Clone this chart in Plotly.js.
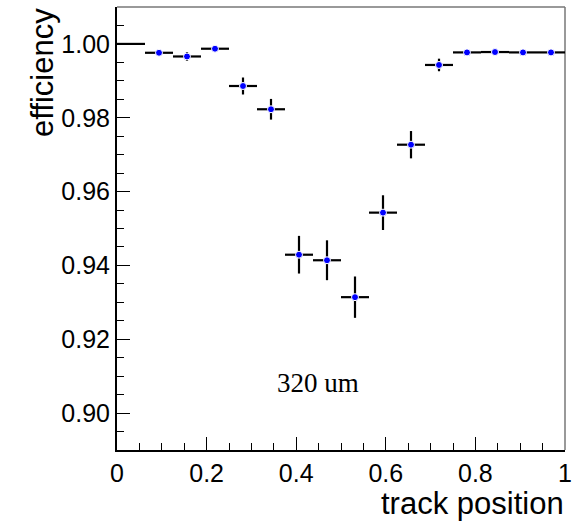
<!DOCTYPE html>
<html>
<head>
<meta charset="utf-8">
<script src="https://cdn.plot.ly/plotly-3.0.1.min.js"></script>
<style>html,body{margin:0;padding:0;background:#fff;}#chart{width:578px;height:524px;}</style>
</head>
<body>
<div id="chart"></div>
<script>
// Bin centres (track position) and measured efficiency
const trackPos = [0.03125, 0.09375, 0.15625, 0.21875, 0.28125, 0.34375, 0.40625, 0.46875,
                  0.53125, 0.59375, 0.65625, 0.71875, 0.78125, 0.84375, 0.90625, 0.96875];
const efficiency = [1.0000, 0.9976, 0.9966, 0.9987, 0.9886, 0.9823, 0.9429, 0.9414,
                    0.9314, 0.9543, 0.9727, 0.9943, 0.9977, 0.9978, 0.9977, 0.9977];
const effErr = [0.0000, 0.0005, 0.0012, 0.0005, 0.0023, 0.0028, 0.0051, 0.0054,
                0.0056, 0.0047, 0.0037, 0.0017, 0.0004, 0.0004, 0.0004, 0.0004];
const binHalfWidth = [0.03125, 0.03125, 0.03125, 0.03125, 0.03125, 0.03125, 0.03125, 0.03125,
                      0.03125, 0.03125, 0.03125, 0.03125, 0.03125, 0.03125, 0.03125, 0.03125];
const markerColors = ['rgba(0,0,0,0)', 'blue', 'blue', 'blue', 'blue', 'blue', 'blue', 'blue',
                      'blue', 'blue', 'blue', 'blue', 'blue', 'blue', 'blue', 'blue'];
const markerEdge = ['rgba(0,0,0,0)', '#fff', '#fff', '#fff', '#fff', '#fff', '#fff', '#fff',
                    '#fff', '#fff', '#fff', '#fff', '#fff', '#fff', '#fff', '#fff'];
const labelText = '320 um';

const trace = {
  type: 'scatter',
  mode: 'markers',
  x: trackPos,
  y: efficiency,
  error_y: {type: 'data', array: effErr, visible: true, color: '#000', thickness: 2.2, width: 0},
  error_x: {type: 'data', array: binHalfWidth, visible: true, color: '#000', thickness: 2.2, width: 0},
  marker: {color: markerColors, size: 7, line: {color: markerEdge, width: 1}},
  hoverinfo: 'x+y'
};

const font = 'Liberation Sans, Arial, Helvetica, sans-serif';

const layout = {
  width: 578, height: 524,
  margin: {l: 117, r: 13, t: 7, b: 74},
  paper_bgcolor: '#fff', plot_bgcolor: '#fff',
  showlegend: false,
  font: {family: font, color: '#000', size: 25},
  xaxis: {
    range: [0, 1], tick0: 0, dtick: 0.2,
    ticks: 'inside', ticklen: 13, tickwidth: 1, tickcolor: '#000',
    minor: {ticks: 'inside', ticklen: 7, dtick: 0.05, tickcolor: '#000', tickwidth: 1},
    showline: true, linecolor: '#000', linewidth: 2,
    showgrid: false, zeroline: false,
    tickfont: {family: font, size: 25, color: '#000'}
  },
  yaxis: {
    range: [0.89, 1.01], tick0: 0.9, dtick: 0.02, tickformat: '.2f',
    ticks: 'inside', ticklen: 13, tickwidth: 1, tickcolor: '#000',
    minor: {ticks: 'inside', ticklen: 7, dtick: 0.005, tickcolor: '#000', tickwidth: 1},
    showline: true, linecolor: '#000', linewidth: 2,
    showgrid: false, zeroline: false,
    tickfont: {family: font, size: 25, color: '#000'}
  },
  shapes: [
    {type: 'line', xref: 'paper', yref: 'paper', x0: 0, x1: 1, y0: 1, y1: 1, line: {color: '#777', width: 1.5}, layer: 'below'},
    {type: 'line', xref: 'paper', yref: 'paper', x0: 1, x1: 1, y0: 0, y1: 1, line: {color: '#777', width: 1.5}, layer: 'below'}
  ],
  annotations: [
    {text: 'efficiency', xref: 'paper', yref: 'paper', x: -0.125, y: 1.0, xanchor: 'right', yanchor: 'top',
     textangle: -90, showarrow: false, borderpad: 0, font: {family: font, size: 31, color: '#000'}},
    {text: 'track position', xref: 'paper', yref: 'paper', x: 1.0, y: -0.08, xanchor: 'right', yanchor: 'top',
     showarrow: false, borderpad: 0, font: {family: font, size: 31, color: '#000'}},
    {text: labelText, xref: 'x', yref: 'y', x: 0.449, y: 0.9082, xanchor: 'center', yanchor: 'middle',
     showarrow: false, font: {family: 'Liberation Serif, Times New Roman, serif', size: 27, color: '#000'}}
  ]
};

Plotly.newPlot('chart', [trace], layout, {displayModeBar: false, staticPlot: true});
</script>
</body>
</html>
